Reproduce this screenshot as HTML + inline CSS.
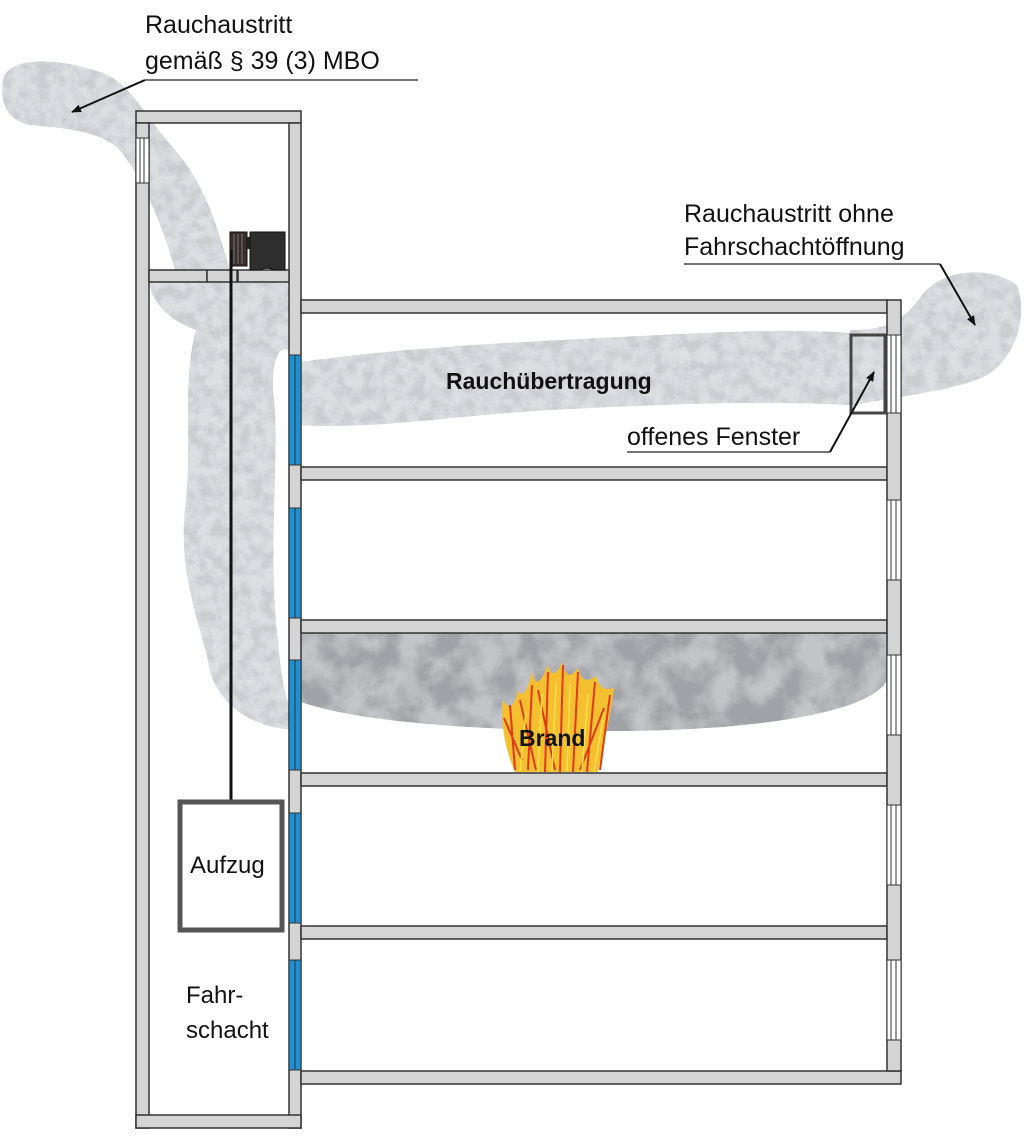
<!DOCTYPE html>
<html><head><meta charset="utf-8"><style>
html,body{margin:0;padding:0;background:#fff;}
svg{display:block;}
text{font-family:"Liberation Sans",Arial,sans-serif;fill:#111;}
</style></head><body>
<svg width="1024" height="1147" viewBox="0 0 1024 1147" xmlns="http://www.w3.org/2000/svg">
<defs>
<filter id="sm" x="-10%" y="-10%" width="120%" height="120%">
<feTurbulence type="fractalNoise" baseFrequency="0.08" numOctaves="3" seed="3" result="n"/>
<feColorMatrix in="n" type="matrix" values="0 0 0 0 0.6  0 0 0 0 0.61  0 0 0 0 0.64  0 0 0 -3 1.9" result="c"/>
<feComposite in="c" in2="SourceGraphic" operator="in" result="t"/>
<feMerge><feMergeNode in="SourceGraphic"/><feMergeNode in="t"/></feMerge>
</filter>
<filter id="smd" x="-10%" y="-10%" width="120%" height="120%">
<feTurbulence type="fractalNoise" baseFrequency="0.03" numOctaves="4" seed="7" result="n"/>
<feColorMatrix in="n" type="matrix" values="0 0 0 0 0.35  0 0 0 0 0.36  0 0 0 0 0.38  0 0 0 -3 2" result="c"/>
<feComposite in="c" in2="SourceGraphic" operator="in" result="t"/>
<feMerge><feMergeNode in="SourceGraphic"/><feMergeNode in="t"/></feMerge>
</filter>
<marker id="ah" markerWidth="10" markerHeight="8" refX="9" refY="4" orient="auto" markerUnits="userSpaceOnUse"><path d="M0,0 L10,4 L0,8 Z" fill="#111"/></marker>
</defs>

<g fill="#dcdee2" filter="url(#sm)">
<path d="M3,80 C8,55 60,58 100,72 C130,82 140,110 175,150 C205,185 215,220 230,270 L175,270 C165,235 150,190 120,150 C100,130 60,128 30,125 C5,120 0,100 3,80 Z"/>
<path d="M150,282 L289,282 L289,350 C275,345 270,370 275,410 C278,470 268,560 278,640 C282,690 288,712 300,718 L300,730 C250,730 212,700 208,660 C192,600 178,560 186,500 C192,440 182,380 196,330 C168,320 150,300 150,282 Z"/>
<path d="M300,362 C400,348 500,343 600,338 C700,333 780,328 850,333 L850,405 C750,400 650,405 550,410 C450,416 370,430 300,425 Z"/>
<path d="M850,330 C880,330 900,325 920,298 C940,268 990,265 1017,285 C1030,320 1012,372 970,382 C940,392 900,396 850,406 Z"/>
</g>
<path d="M301,633 L887,633 L887,680 C870,715 740,732 600,731 C470,730 360,722 301,702 Z" fill="#c2c4c8" filter="url(#smd)"/>

<g fill="#d4d4d4" stroke="#333" stroke-width="1.5">
<rect x="136" y="111" width="165" height="12"/>
<rect x="136" y="123" width="13" height="1005"/>
<rect x="289" y="123" width="12" height="1005"/>
<rect x="136" y="1115" width="165" height="13"/>
<rect x="149" y="270" width="58" height="12"/>
<rect x="207" y="270" width="30" height="12"/>
<rect x="238" y="270" width="51" height="12"/>
</g>
<g stroke="#333" stroke-width="1" fill="#fff"><rect x="136" y="138" width="13" height="45"/><line x1="140" y1="138" x2="140" y2="183"/><line x1="144" y1="138" x2="144" y2="183"/></g>

<g fill="#d4d4d4" stroke="#333" stroke-width="1.5">
<rect x="301" y="300" width="586" height="13"/>
<rect x="301" y="467" width="586" height="13"/>
<rect x="301" y="620" width="586" height="13"/>
<rect x="301" y="773" width="586" height="13"/>
<rect x="301" y="926" width="586" height="13"/>
<rect x="301" y="1071" width="600" height="13"/>
<rect x="887" y="300" width="14" height="771"/>
</g>
<g fill="#fff" stroke="#333" stroke-width="1">
<rect x="887" y="335" width="14" height="78"/>
<rect x="887" y="500" width="14" height="80"/>
<rect x="887" y="655" width="14" height="80"/>
<rect x="887" y="805" width="14" height="80"/>
<rect x="887" y="960" width="14" height="80"/>
</g>
<g stroke="#333" stroke-width="1">
<line x1="891" y1="335" x2="891" y2="413"/><line x1="896" y1="335" x2="896" y2="413"/>
<line x1="891" y1="500" x2="891" y2="580"/><line x1="896" y1="500" x2="896" y2="580"/>
<line x1="891" y1="655" x2="891" y2="735"/><line x1="896" y1="655" x2="896" y2="735"/>
<line x1="891" y1="805" x2="891" y2="885"/><line x1="896" y1="805" x2="896" y2="885"/>
<line x1="891" y1="960" x2="891" y2="1040"/><line x1="896" y1="960" x2="896" y2="1040"/>
</g>
<rect x="851" y="335" width="34" height="78" fill="none" stroke="#444" stroke-width="3"/>

<g fill="#1e8fd0" stroke="#333" stroke-width="1">
<rect x="289" y="355" width="12" height="110"/>
<rect x="289" y="508" width="12" height="110"/>
<rect x="289" y="660" width="12" height="110"/>
<rect x="289" y="813" width="12" height="110"/>
<rect x="289" y="960" width="12" height="110"/>
</g>
<g stroke="#333" stroke-width="1">
<line x1="295" y1="355" x2="295" y2="465"/><line x1="295" y1="508" x2="295" y2="618"/>
<line x1="295" y1="660" x2="295" y2="770"/><line x1="295" y1="813" x2="295" y2="923"/>
<line x1="295" y1="960" x2="295" y2="1070"/>
</g>

<rect x="230" y="232" width="17" height="34" fill="#3a2e2a" stroke="#111"/>
<g stroke="#777" stroke-width="1"><line x1="234" y1="234" x2="234" y2="264"/><line x1="238" y1="234" x2="238" y2="264"/><line x1="242" y1="234" x2="242" y2="264"/></g>
<rect x="247" y="237" width="3" height="12" fill="#222"/>
<path d="M250,232 H285 V270 H273 A8,5 0 0 0 261,270 H250 Z" fill="#2e2e2e" stroke="#111"/>
<line x1="231" y1="250" x2="231" y2="800" stroke="#111" stroke-width="3"/>
<rect x="180" y="802" width="102" height="128" fill="#fff" stroke="#555" stroke-width="5"/>

<g>
<path d="M515,772 C505,750 500,720 503,700 C510,712 515,705 518,690 C522,700 528,690 532,672 C536,690 542,680 548,665 C552,680 558,672 562,662 C566,680 572,676 578,668 C582,685 590,680 596,676 C600,690 606,690 614,688 C610,720 602,750 598,772 Z" fill="#f5c030"/>
<g stroke="#e03a16" stroke-width="2" fill="none">
<path d="M515,770 L510,705"/><path d="M528,770 L532,685"/><path d="M545,772 L548,672"/><path d="M560,772 L563,665"/><path d="M573,772 L578,672"/><path d="M587,772 L595,682"/><path d="M600,770 L610,695"/><path d="M522,760 L504,718"/><path d="M555,770 L538,690"/><path d="M580,770 L604,708"/><path d="M536,770 L520,700"/>
</g>
<g stroke="#f8e04a" stroke-width="1.5" fill="none">
<path d="M520,772 L526,712"/><path d="M538,772 L542,694"/><path d="M552,772 L556,684"/><path d="M567,772 L570,684"/><path d="M582,772 L588,694"/><path d="M594,772 L604,712"/>
</g>
</g>

<text x="145" y="33" font-size="25">Rauchaustritt</text>
<text x="145" y="69" font-size="25">gemäß § 39 (3) MBO</text>
<line x1="418" y1="80" x2="145" y2="80" stroke="#222" stroke-width="1.2"/>
<line x1="145" y1="80" x2="72" y2="112" stroke="#111" stroke-width="2" marker-end="url(#ah)"/>

<text x="684" y="222" font-size="25">Rauchaustritt ohne</text>
<text x="684" y="255" font-size="25">Fahrschachtöffnung</text>
<line x1="684" y1="264" x2="940" y2="264" stroke="#222" stroke-width="1.2"/>
<line x1="940" y1="264" x2="975" y2="325" stroke="#111" stroke-width="2" marker-end="url(#ah)"/>

<text x="627" y="445" font-size="25">offenes Fenster</text>
<line x1="627" y1="452" x2="830" y2="452" stroke="#222" stroke-width="1.2"/>
<line x1="830" y1="452" x2="874" y2="372" stroke="#111" stroke-width="2" marker-end="url(#ah)"/>

<text x="446" y="389" font-size="23" font-weight="bold">Rauchübertragung</text>
<text x="519" y="746" font-size="23" font-weight="bold">Brand</text>
<text x="190" y="873" font-size="24">Aufzug</text>
<text x="186" y="1003" font-size="24">Fahr-</text>
<text x="186" y="1038" font-size="24">schacht</text>
</svg>
</body></html>
